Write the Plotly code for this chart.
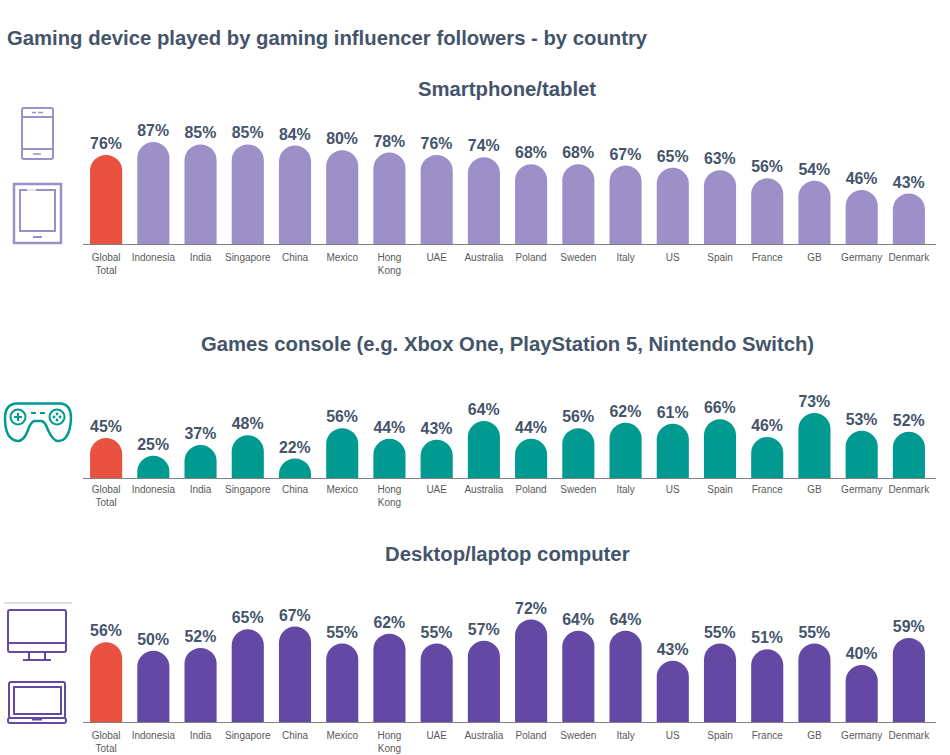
"""Gaming device played by gaming influencer followers - three bar panels with icons."""

import plotly.graph_objects as go

WIDTH = 950
HEIGHT = 755

countries = ["Global<br>Total", "Indonesia", "India", "Singapore", "China", "Mexico",
             "Hong<br>Kong", "UAE", "Australia", "Poland", "Sweden", "Italy", "US",
             "Spain", "France", "GB", "Germany", "Denmark"]

smartphone = [76, 87, 85, 85, 84, 80, 78, 76, 74, 68, 68, 67, 65, 63, 56, 54, 46, 43]
console = [45, 25, 37, 48, 22, 56, 44, 43, 64, 44, 56, 62, 61, 66, 46, 73, 53, 52]
computer = [56, 50, 52, 65, 67, 55, 62, 55, 57, 72, 64, 64, 43, 55, 51, 55, 40, 59]

RED = "#e95140"
LILAC = "#9d8fc7"
TEAL = "#009a90"
PURPLE = "#6349a3"
TEXT = "#44546a"
TICK_TEXT = "#595959"
FONT = "Liberation Sans"


def px(x):
    return x / WIDTH


def py(y):
    return 1 - y / HEIGHT


# baseline pixel, pixels per percent, title position and tick label standoff per panel
panels = [
    ("Smartphone/tablet", smartphone, LILAC, 244, 1.172, 89, 4),
    ("Games console (e.g. Xbox One, PlayStation 5, Nintendo Switch)", console, TEAL, 478, 0.89, 344, 2),
    ("Desktop/laptop computer", computer, PURPLE, 722, 1.425, 554, 4),
]

fig = go.Figure()
layout = {}
annotations = []

for i, (title, values, color, base, scale, title_y, standoff) in enumerate(panels):
    suffix = "" if i == 0 else str(i + 1)
    fig.add_trace(go.Bar(
        x=countries,
        y=values,
        xaxis=f"x{suffix}",
        yaxis=f"y{suffix}",
        width=0.68,
        marker=dict(color=[RED] + [color] * (len(values) - 1), line_width=0, cornerradius="50%"),
        text=[f"{v}%" for v in values],
        textposition="outside",
        textangle=0,
        cliponaxis=False,
        textfont=dict(family=FONT, size=16.5, color=TEXT, weight="bold"),
        showlegend=False,
    ))
    layout[f"xaxis{suffix}"] = dict(
        # axis line runs a few pixels past the last category
        domain=[px(82.5), px(936)],
        range=[-0.5, 17.574],
        anchor=f"y{suffix}",
        categoryorder="array",
        categoryarray=countries,
        showline=True,
        linecolor="#808080",
        linewidth=1,
        showgrid=False,
        ticks="",
        tickangle=0,
        ticklabelstandoff=standoff,
        tickfont=dict(family=FONT, size=10, color=TICK_TEXT),
        fixedrange=True,
    )
    layout[f"yaxis{suffix}"] = dict(
        domain=[py(base), py(base - 100 * scale)],
        anchor=f"x{suffix}",
        range=[0, 100],
        visible=False,
        fixedrange=True,
    )
    annotations.append(dict(
        text=f"<b>{title}</b>", xref="paper", yref="paper", x=px(507), y=py(title_y),
        xanchor="center", yanchor="middle", showarrow=False,
        font=dict(family=FONT, size=20.3, color=TEXT),
    ))

annotations.append(dict(
    text="<b>Gaming device played by gaming influencer followers - by country</b>",
    xref="paper", yref="paper", x=px(5), y=py(38), xanchor="left", yanchor="middle",
    showarrow=False, font=dict(family=FONT, size=20.3, color=TEXT),
))


# icons are drawn in image pixels, converted to paper coordinates
def line(x0, y0, x1, y1, color, w=2):
    return dict(type="line", xref="paper", yref="paper", x0=px(x0), y0=py(y0), x1=px(x1), y1=py(y1),
                line=dict(color=color, width=w))


def rect(x0, y0, x1, y1, color, w=2):
    return dict(type="rect", xref="paper", yref="paper", x0=px(x0), y0=py(y0), x1=px(x1), y1=py(y1),
                line=dict(color=color, width=w))


def circle(cx, cy, r, color, w=2):
    return dict(type="circle", xref="paper", yref="paper", x0=px(cx - r), y0=py(cy - r),
                x1=px(cx + r), y1=py(cy + r), line=dict(color=color, width=w))


def path(points, color, w=2):
    # points: list of (command, x, y, ...) in pixels
    parts = []
    for cmd, *coords in points:
        xy = [f"{px(c)} {py(coords[j + 1])}" for j, c in enumerate(coords) if j % 2 == 0]
        parts.append(cmd + " " + " ".join(xy))
    return dict(type="path", xref="paper", yref="paper", path=" ".join(parts) + " Z",
                line=dict(color=color, width=w))


def round_rect(x0, y0, x1, y1, r, color, w=2):
    return path([
        ("M", x0 + r, y0), ("L", x1 - r, y0), ("Q", x1, y0, x1, y0 + r),
        ("L", x1, y1 - r), ("Q", x1, y1, x1 - r, y1), ("L", x0 + r, y1),
        ("Q", x0, y1, x0, y1 - r), ("L", x0, y0 + r), ("Q", x0, y0, x0 + r, y0),
    ], color, w)


shapes = [
    # phone
    round_rect(22, 108, 53, 159, 2, LILAC),
    line(22, 117, 53, 117, LILAC),
    line(22, 149, 53, 149, LILAC),
    line(32, 112.5, 36, 112.5, LILAC, 1.5),
    line(38, 112.5, 43, 112.5, LILAC, 1.5),
    line(33, 154, 41, 154, LILAC, 1.5),
    # tablet
    rect(14, 184, 61, 243, LILAC, 2.5),
    rect(20, 190, 55, 231, LILAC),
    line(27, 190, 36, 190, "white", 1.5),
    line(33, 237, 42, 237, LILAC, 2),
    # controller
    path([
        ("M", 17, 403.5), ("L", 60, 403.5), ("Q", 71, 404, 71, 418), ("Q", 70, 441, 58, 441),
        ("Q", 53, 441, 48, 430), ("Q", 45, 421, 41, 421), ("L", 35, 421), ("Q", 31, 421, 28, 430),
        ("Q", 24, 441, 18, 441), ("Q", 5, 440, 5, 418), ("Q", 5, 404, 17, 403.5),
    ], TEAL, 2.5),
    circle(18, 417, 7.5, TEAL),
    circle(57, 417, 7.5, TEAL),
    line(14, 417, 22, 417, TEAL),
    line(18, 413, 18, 421, TEAL),
    line(31, 413, 36, 413, TEAL),
    line(40, 413, 45, 413, TEAL),
    circle(57, 414, 0.7, TEAL, 1.5),
    circle(57, 420, 0.7, TEAL, 1.5),
    circle(54, 417, 0.7, TEAL, 1.5),
    circle(60, 417, 0.7, TEAL, 1.5),
    # divider above the desktop icon
    line(4, 603, 72, 603, "#bfbfbf", 1),
    # desktop
    round_rect(8, 610, 66, 652, 2, PURPLE),
    line(8, 643, 66, 643, PURPLE),
    line(29, 652, 29, 660, PURPLE),
    line(45, 652, 45, 660, PURPLE),
    line(23, 660, 51, 660, PURPLE),
    # laptop
    round_rect(9, 682, 65, 718, 2, PURPLE),
    rect(14, 687, 61, 714, PURPLE),
    round_rect(8, 718, 66, 723, 2, PURPLE),
    line(32, 719.5, 42, 719.5, PURPLE),
]

fig.update_layout(
    width=WIDTH,
    height=HEIGHT,
    margin=dict(l=0, r=0, t=0, b=0),
    paper_bgcolor="white",
    plot_bgcolor="white",
    annotations=annotations,
    shapes=shapes,
    **layout,
)

# page body has a default 8px margin that would shift everything
fig.write_html("out.html", config={"displayModeBar": False},
               post_script="document.body.style.margin='0';document.body.style.overflow='hidden';")
